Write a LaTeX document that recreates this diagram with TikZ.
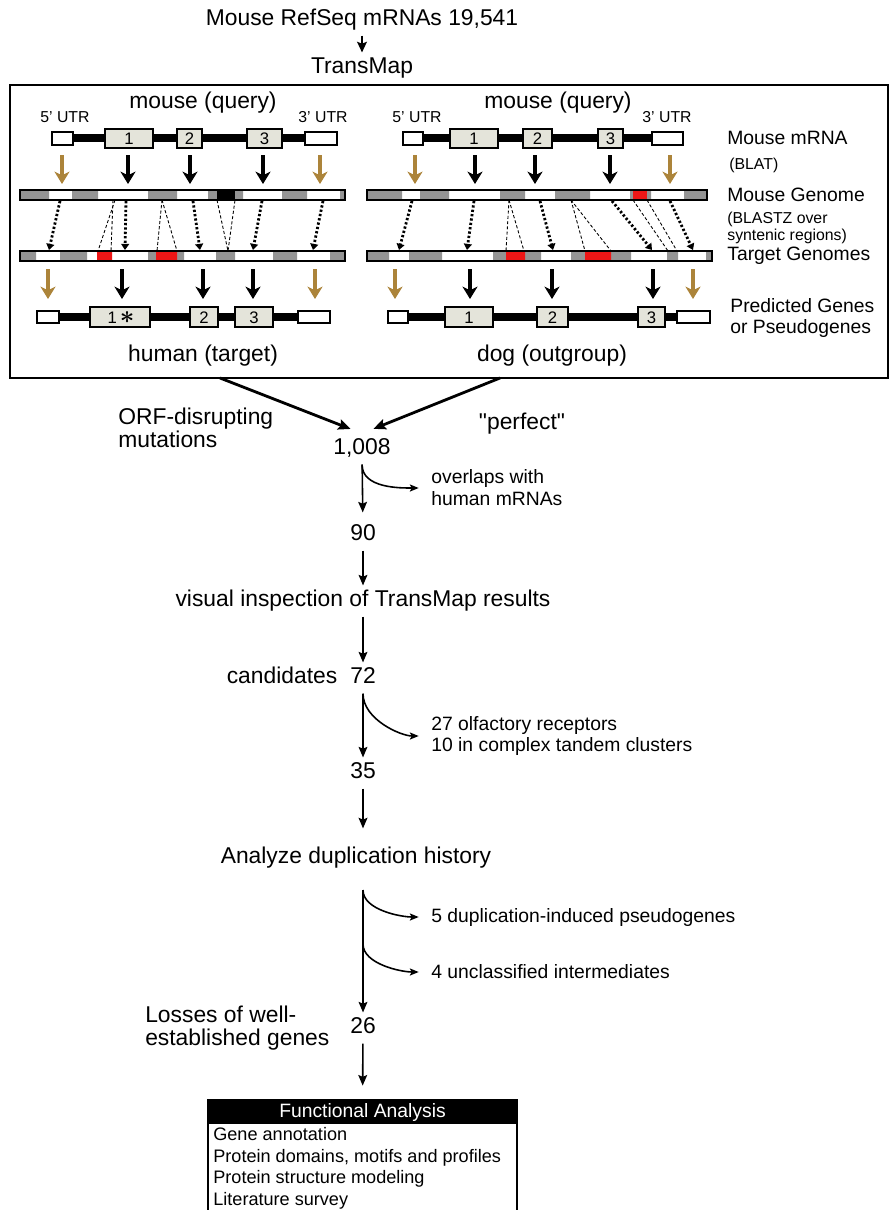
\documentclass[tikz,border=0pt]{standalone}
\usepackage{fontspec}
\setmainfont{Liberation Sans}
\newfontfamily\quotefont{Liberation Sans}
\usetikzlibrary{arrows.meta,positioning}

\definecolor{utrgold}{RGB}{172,132,58}
\definecolor{exonfill}{RGB}{228,228,218}
\definecolor{seggray}{RGB}{148,148,148}
\definecolor{segred}{RGB}{238,22,22}

\tikzset{
  flowtext/.style={font=\fontsize{13}{15}\selectfont, text height=9.5pt, text depth=2.8pt, inner sep=2.5pt},
  sidetext/.style={font=\fontsize{13}{13}\selectfont, align=left, inner sep=0pt},
  notetext/.style={font=\fontsize{11}{12.5}\selectfont, align=left, anchor=west, inner sep=0pt},
  paneltext/.style={font=\fontsize{13}{15}\selectfont, inner sep=0pt},
  utrtext/.style={font=\fontsize{9}{10}\selectfont, inner sep=0pt},
  legendtext/.style={font=\fontsize{11}{12.5}\selectfont, anchor=west, inner sep=0pt},
  legendsmall/.style={font=\fontsize{9}{10}\selectfont, anchor=west, inner sep=0pt},
  exonnum/.style={font=\fontsize{9.5}{10}\selectfont, inner sep=0pt},
  frame/.style={line width=1.5pt},
  intron/.style={line width=4pt},
  utrbox/.style={draw, fill=white, line width=1.1pt},
  exonbox/.style={draw, fill=exonfill, line width=1.1pt},
  barline/.style={draw, line width=0.6pt},
  maparrow/.style={line width=2pt, -{Stealth[length=7pt,width=8.5pt,inset=2pt]}},
  utrarrow/.style={maparrow, utrgold},
  alignarrow/.style={line width=1.6pt, dash pattern=on 1.3pt off 1.2pt, -{Triangle[length=3.5pt,width=4.5pt]}},
  gapline/.style={line width=0.5pt, dash pattern=on 1.8pt off 1.2pt},
  flowarrow/.style={line width=0.9pt, -{Stealth[length=6pt,width=5pt,inset=1pt]}},
  titlearrow/.style={line width=1.2pt, -{Stealth[length=6pt,width=5.5pt,inset=1pt]}},
  mergearrow/.style={line width=1.6pt, -{Stealth[length=7pt,width=6pt,inset=1.2pt]}, shorten >=7pt},
  sidearrow/.style={line width=0.9pt, -{Stealth[length=5pt,width=4pt,inset=1pt]}, shorten >=7pt},
  headbox/.style={fill=black, text=white, font=\fontsize{11}{12.5}\selectfont, minimum width=6.18cm, minimum height=0.48cm, inner sep=0pt},
  listtext/.style={font=\fontsize{10.3}{12.3}\selectfont, align=left, anchor=north west, inner sep=0pt},
}

\begin{document}
\begin{tikzpicture}[x=0.02cm, y=-0.02cm]
\useasboundingbox (0,0) rectangle (892,1210);

% Input and TransMap step
\node[flowtext] (refseq) at (362,20) {Mouse RefSeq mRNAs 19,541};
\node[flowtext] (transmap) at (362,68) {TransMap};
\draw[titlearrow] (refseq) -- (transmap);
\draw[frame] (10,85) rectangle (888,378);

% Left panel: mouse mRNA
\node[paneltext] (lquery) at (203,103) {mouse (query)};
\node[utrtext] (lutr5) at (65,117) {5' UTR};
\node[utrtext] (lutr3) at (323,117) {3' UTR};
    \draw[intron] (73,138) -- (305,138);
    \draw[utrbox] (52,132) rectangle (73,145);
    \draw[exonbox] (105,129) rectangle (153,148);
    \draw[exonbox] (177,129) rectangle (202,148);
    \draw[exonbox] (247,129) rectangle (282,148);
    \draw[utrbox] (305,132) rectangle (337,145);
\node[exonnum] (lq1) at (129,138.5) {1};
\node[exonnum] (lq2) at (189.5,138.5) {2};
\node[exonnum] (lq3) at (264.5,138.5) {3};
    \draw[utrarrow] (62,155) -- (62,184);
    \draw[maparrow] (128,155) -- (128,184);
    \draw[maparrow] (190,155) -- (190,184);
    \draw[maparrow] (263,155) -- (263,184);
    \draw[utrarrow] (320,155) -- (320,184);
% Left panel: mouse genome
    \fill[white] (20,190) rectangle (345,200);
    \fill[seggray] (20,190) rectangle (49,200) (72,190) rectangle (98,200) (148,190) rectangle (177,200) (208,190) rectangle (217,200) (235,190) rectangle (243,200) (282,190) rectangle (307,200) (340,190) rectangle (345,200);
    \fill[black] (217,190) rectangle (235,200);
    \draw[barline] (20,190) rectangle (345,200);
% Left panel: alignments
    \draw[alignarrow] (60,201) -- (49,250);
    \draw[alignarrow] (126,201) -- (125,250);
    \draw[alignarrow] (193,201) -- (200,250);
    \draw[alignarrow] (262,201) -- (253,250);
    \draw[alignarrow] (323,201) -- (313,250);
    \draw[gapline] (115,200) -- (98,251);
    \draw[gapline] (113,200) -- (111,251);
    \draw[gapline] (162,200) -- (157,251);
    \draw[gapline] (162,200) -- (177,251);
    \draw[gapline] (217,200) -- (228,251) -- (235,200);
% Left panel: human genome
    \fill[white] (20,251) rectangle (345,261);
    \fill[seggray] (20,251) rectangle (36,261) (60,251) rectangle (87,261) (148,251) rectangle (156,261) (177,251) rectangle (184,261) (216,251) rectangle (235,261) (273,251) rectangle (297,261) (330,251) rectangle (345,261);
    \fill[segred] (97,251) rectangle (112,261) (156,251) rectangle (177,261);
    \draw[barline] (20,251) rectangle (345,261);
    \draw[utrarrow] (48,269) -- (48,299);
    \draw[maparrow] (122,269) -- (122,299);
    \draw[maparrow] (203,269) -- (203,299);
    \draw[maparrow] (253,269) -- (253,299);
    \draw[utrarrow] (315,269) -- (315,299);
% Left panel: predicted human gene
    \draw[intron] (59,317) -- (298,317);
    \draw[utrbox] (37,311) rectangle (59,323);
    \draw[exonbox] (90,307) rectangle (150,327);
    \draw[exonbox] (190,307) rectangle (218,327);
    \draw[exonbox] (235,307) rectangle (273,327);
    \draw[utrbox] (298,311) rectangle (330,323);
\node[exonnum] (lt1) at (121,317.5) {1\,{\fontsize{14}{14}\selectfont\boldmath$\ast$}};
\node[exonnum] (lt2) at (204,317.5) {2};
\node[exonnum] (lt3) at (254,317.5) {3};
\node[paneltext] (ltarget) at (203,356) {human (target)};

% Right panel: mouse mRNA
\node[paneltext] (rquery) at (558,103) {mouse (query)};
\node[utrtext] (rutr5) at (417,117) {5' UTR};
\node[utrtext] (rutr3) at (667,117) {3' UTR};
    \draw[intron] (423,138) -- (652,138);
    \draw[utrbox] (403,132) rectangle (423,145);
    \draw[exonbox] (450,129) rectangle (498,148);
    \draw[exonbox] (523,129) rectangle (552,148);
    \draw[exonbox] (598,129) rectangle (623,148);
    \draw[utrbox] (652,132) rectangle (683,145);
\node[exonnum] (rq1) at (474,138.5) {1};
\node[exonnum] (rq2) at (537.5,138.5) {2};
\node[exonnum] (rq3) at (610.5,138.5) {3};
    \draw[utrarrow] (415,155) -- (415,184);
    \draw[maparrow] (475,155) -- (475,184);
    \draw[maparrow] (535,155) -- (535,184);
    \draw[maparrow] (610,155) -- (610,184);
    \draw[utrarrow] (670,155) -- (670,184);
% Right panel: mouse genome
    \fill[white] (367,190) rectangle (707,200);
    \fill[seggray] (367,190) rectangle (402,200) (420,190) rectangle (449,200) (500,190) rectangle (525,200) (555,190) rectangle (590,200) (630,190) rectangle (633,200) (647,190) rectangle (651,200) (684,190) rectangle (707,200);
    \fill[segred] (633,190) rectangle (647,200);
    \draw[barline] (367,190) rectangle (707,200);
% Right panel: alignments
    \draw[alignarrow] (412,201) -- (399,250);
    \draw[alignarrow] (474,201) -- (467,250);
    \draw[alignarrow] (540,201) -- (553,250);
    \draw[alignarrow] (612,201) -- (652,250);
    \draw[alignarrow] (670,201) -- (693,250);
    \draw[gapline] (509,200) -- (506,251);
    \draw[gapline] (509,200) -- (524,251);
    \draw[gapline] (571,200) -- (585,251);
    \draw[gapline] (571,200) -- (611,251);
    \draw[gapline] (633,200) -- (668,251);
    \draw[gapline] (647,200) -- (677,251);
% Right panel: dog genome
    \fill[white] (367,251) rectangle (712,261);
    \fill[seggray] (367,251) rectangle (389,261) (409,251) rectangle (442,261) (493,251) rectangle (506,261) (525,251) rectangle (541,261) (571,251) rectangle (585,261) (611,251) rectangle (631,261) (667,251) rectangle (678,261) (706,251) rectangle (712,261);
    \fill[segred] (506,251) rectangle (525,261) (585,251) rectangle (611,261);
    \draw[barline] (367,251) rectangle (712,261);
    \draw[utrarrow] (395,269) -- (395,299);
    \draw[maparrow] (470,269) -- (470,299);
    \draw[maparrow] (552,269) -- (552,299);
    \draw[maparrow] (653,269) -- (653,299);
    \draw[utrarrow] (693,269) -- (693,299);
% Right panel: predicted dog gene
    \draw[intron] (408,317) -- (677,317);
    \draw[utrbox] (388,311) rectangle (408,323);
    \draw[exonbox] (445,307) rectangle (493,327);
    \draw[exonbox] (537,307) rectangle (568,327);
    \draw[exonbox] (638,307) rectangle (665,327);
    \draw[utrbox] (677,311) rectangle (710,323);
\node[exonnum] (rt1) at (469,317.5) {1};
\node[exonnum] (rt2) at (552.5,317.5) {2};
\node[exonnum] (rt3) at (651.5,317.5) {3};
\node[paneltext] (rtarget) at (552,356) {dog (outgroup)};

% Legend of the rows
\node[legendtext] (lgmrna) at (727,138) {Mouse mRNA};
\node[legendsmall] (lgblat) at (729,165) {(BLAT)};
\node[legendtext] (lggenome) at (727,195) {Mouse Genome};
\node[legendsmall, align=left] (lgblastz) at (727,228) {(BLASTZ over\\syntenic regions)};
\node[legendtext] (lgtarget) at (727,256) {Target Genomes};
\node[legendtext, align=left] (lgpred) at (730,318) {Predicted Genes\\or Pseudogenes};

% Filtering steps
\coordinate (boxL) at (220,378);
\coordinate (boxR) at (500,378);
\node[flowtext] (n1008) at (362,449) {1,008};
\node[sidetext, anchor=west] (orf) at (118,428) {ORF-disrupting\\mutations};
\node[flowtext] (perfect) at (522,424) {\quotefont "perfect"};
\draw[mergearrow] (boxL) -- (n1008.north);
\draw[mergearrow] (boxR) -- (n1008.north);
\node[notetext] (olap) at (431,488) {overlaps with\\human mRNAs};
\node[flowtext] (n90) at (363,535) {90};
\draw[flowarrow, shorten >=4pt] (n1008) -- (n90);
\draw[sidearrow] (n1008.south) .. controls +(0,24) and +(-30,0) .. (olap.west);
\node[flowtext] (visual) at (363,601) {visual inspection of TransMap results};
\draw[flowarrow] (n90) -- (visual);
\node[flowtext] (n72) at (363,678) {72};
\node[flowtext, left=2pt of n72] (cand) {candidates};
\draw[flowarrow] (visual) -- (n72);
\node[notetext] (olf) at (431,736) {27 olfactory receptors\\10 in complex tandem clusters};
\node[flowtext] (n35) at (363,773) {35};
\draw[flowarrow] (n72) -- (n35);
\draw[sidearrow] (n72.south) .. controls +(0,26) and +(-30,0) .. (olf.west);
\node[flowtext] (analyze) at (356,858) {Analyze duplication history};
\draw[flowarrow, shorten >=8pt] (n35) -- (n35 |- analyze.north);
\coordinate (dupsplit) at (363,890);
\coordinate (dupsplit2) at (363,944);
\node[notetext] (dup) at (431,917) {5 duplication-induced pseudogenes};
\node[notetext] (uncl) at (431,972) {4 unclassified intermediates};
\node[flowtext] (n26) at (363,1028) {26};
\node[sidetext, left=9pt of n26] (losses) {Losses of well-\\established genes};
\draw[flowarrow] (dupsplit) -- (n26);
\draw[sidearrow] (dupsplit) .. controls +(0,20) and +(-30,0) .. (dup.west);
\draw[sidearrow] (dupsplit2) .. controls +(0,20) and +(-30,0) .. (uncl.west);

% Functional analysis box
\node[headbox] (func) at (362.5,1112) {Functional Analysis};
\draw[line width=1pt] (208,1100) rectangle (517,1216);
\node[listtext] (funclist) at (213,1127) {Gene annotation\\Protein domains, motifs and profiles\\Protein structure modeling\\Literature survey};
\draw[flowarrow, shorten >=8pt] (n26) -- (func);
\end{tikzpicture}
\end{document}
